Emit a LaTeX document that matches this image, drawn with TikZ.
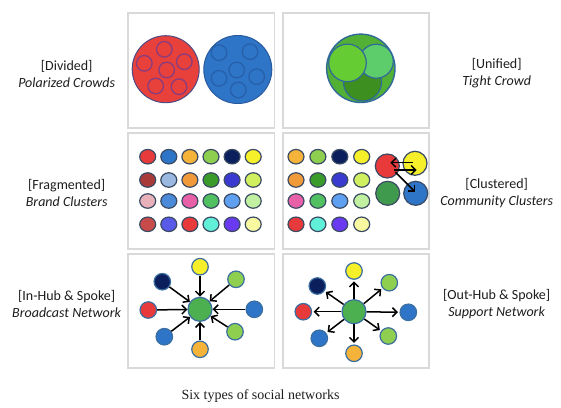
\documentclass[tikz,border=0pt]{standalone}
\usepackage{fontspec}
\setmainfont{Carlito}
\newfontfamily\capfont{Liberation Serif}
\usetikzlibrary{arrows.meta,shapes.geometric}
\definecolor{panelgray}{HTML}{D9D9D9}
\definecolor{txt}{HTML}{1E1E1E}
\definecolor{redA}{HTML}{E8403A}
\definecolor{redEdge}{HTML}{4E4A86}
\definecolor{redSmall}{HTML}{8A3C7E}
\definecolor{blueA}{HTML}{2E75C8}
\definecolor{blueEdge}{HTML}{2A5A9E}
\definecolor{blueSmall}{HTML}{2760AA}
\definecolor{gBig}{HTML}{52B034}
\definecolor{gLeft}{HTML}{66CC33}
\definecolor{gRight}{HTML}{5DCC6A}
\definecolor{gDark}{HTML}{3D8F1F}
\definecolor{gEdge}{HTML}{30699A}
\definecolor{dotEdge}{HTML}{3B4A63}
\definecolor{nodeEdge}{HTML}{3A6EA0}
% palette
\definecolor{cRed}{HTML}{E83A3A}
\definecolor{cBlue}{HTML}{2E75C8}
\definecolor{cOrange}{HTML}{F5B33A}
\definecolor{cLGreen}{HTML}{8FCF50}
\definecolor{cNavy}{HTML}{0A1F5C}
\definecolor{cYellow}{HTML}{F5F02A}
\definecolor{cDRed}{HTML}{A83A3A}
\definecolor{cLBlue}{HTML}{9AB8E0}
\definecolor{cOrange2}{HTML}{F09A3A}
\definecolor{cDGreen}{HTML}{3A9A2A}
\definecolor{cRoyal}{HTML}{3A3AD0}
\definecolor{cYGreen}{HTML}{D0F060}
\definecolor{cPink}{HTML}{E8B0B8}
\definecolor{cMBlue}{HTML}{4A8AD8}
\definecolor{cMagenta}{HTML}{E860A8}
\definecolor{cGreen}{HTML}{50C060}
\definecolor{cSky}{HTML}{60A0F0}
\definecolor{cPGreen}{HTML}{C0F0A0}
\definecolor{cBrick}{HTML}{C84A4A}
\definecolor{cPeri}{HTML}{5A5AE8}
\definecolor{cAqua}{HTML}{60F0D8}
\definecolor{cPurple}{HTML}{6A3AF0}
\definecolor{cPYellow}{HTML}{F8F8A0}
\definecolor{hubGreen}{HTML}{4CAF50}
\begin{document}
\begin{tikzpicture}[x=1pt,y=-1pt,
  panel/.style={draw=panelgray, line width=1.8pt},
  lbl/.style={align=center, font=\fontsize{14}{17}\selectfont, text=txt},
  dot/.style={ellipse, draw=dotEdge, line width=1.2pt, inner sep=0pt, minimum width=16pt, minimum height=14.5pt},
  big/.style={circle, draw=dotEdge, line width=1.2pt, inner sep=0pt, minimum size=24pt},
  sat/.style={circle, draw=nodeEdge, line width=1.2pt, inner sep=0pt, minimum size=16.5pt},
  hub/.style={circle, draw=nodeEdge, line width=1.2pt, fill=hubGreen, inner sep=0pt, minimum size=24pt},
  arr/.style={-{Straight Barb[length=4.5pt,width=9pt]}, line width=1.5pt, black},
  rarr/.style={{Straight Barb[length=4.5pt,width=9pt]}-, line width=1.5pt, black}
]
\useasboundingbox (0,0) rectangle (561,407);
\fill[white] (0,0) rectangle (561,407);
% panels
\draw[panel] (128.3,12.7) rectangle (274.5,128);
\draw[panel] (283,12.7) rectangle (429,128);
\draw[panel] (128.3,132.7) rectangle (274.5,249);
\draw[panel] (283,132.7) rectangle (429,249);
\draw[panel] (128.3,254) rectangle (274.5,368);
\draw[panel] (283,254) rectangle (429,368);
% labels
\node[lbl] (l1) at (66.7,73.5) {[Divided]\\\textit{Polarized Crowds}};
\node[lbl] (l2) at (66.7,193.3) {[Fragmented]\\\textit{Brand Clusters}};
\node[lbl] (l3) at (66.7,304) {[In-Hub \& Spoke]\\\textit{Broadcast Network}};
\node[lbl] (r1) at (496.7,73.5) {[Unified]\\\textit{Tight Crowd}};
\node[lbl] (r2) at (496.7,193.3) {[Clustered]\\\textit{Community Clusters}};
\node[lbl] (r3) at (496.7,304) {[Out-Hub \& Spoke]\\\textit{Support Network}};
\node[font=\capfont\fontsize{14}{16}\selectfont, text=txt] (cap) at (260.5,395.7) {Six types of social networks};
% panel 1: divided
\draw[fill=redA, draw=redEdge, line width=1pt] (165.7,69.2) circle (33.5pt);
\foreach \p in {(164.3,49.3),(144.3,63.3),(184.3,61.7),(166.7,70),(155.7,86),(179,86.7)}
  \draw[draw=redSmall, line width=1.3pt] \p circle (7.8pt);
\draw[fill=blueA, draw=blueEdge, line width=1pt] (237.8,69.5) circle (34pt);
\foreach \p in {(219,52.7),(250,51.7),(236.7,70),(219,78.3),(256.7,76.7),(238.3,90)}
  \draw[draw=blueSmall, line width=1.3pt] \p circle (7.8pt);
% panel 2: unified
\begin{scope}
  \clip (360.8,68.3) circle (34.2pt);
  \fill[gBig] (360.8,68.3) circle (34.2pt);
  \draw[fill=gDark, draw=gEdge, line width=1.2pt] (362.5,82) circle (19pt);
  \draw[fill=gRight, draw=gEdge, line width=1.2pt] (376.3,61.2) circle (17pt);
  \draw[fill=gLeft, draw=gEdge, line width=1.2pt] (347.5,62.9) circle (18.8pt);
\end{scope}
\draw[draw=gEdge, line width=1.4pt] (360.8,68.3) circle (34.2pt);
% panel 3: fragmented
\foreach \c [count=\i] in {cRed,cBlue,cOrange,cLGreen,cNavy,cYellow}
  \node[dot, fill=\c] (f1-\i) at ({147.7+21.1*(\i-1)},156.7) {};
\foreach \c [count=\i] in {cDRed,cLBlue,cOrange2,cDGreen,cRoyal,cYGreen}
  \node[dot, fill=\c] (f2-\i) at ({147.7+21.1*(\i-1)},180) {};
\foreach \c [count=\i] in {cPink,cMBlue,cMagenta,cGreen,cSky,cPGreen}
  \node[dot, fill=\c] (f3-\i) at ({147.7+21.1*(\i-1)},201) {};
\foreach \c [count=\i] in {cBrick,cPeri,cRed,cAqua,cPurple,cPYellow}
  \node[dot, fill=\c] (f4-\i) at ({147.7+21.1*(\i-1)},224.3) {};
% panel 4: clustered
\foreach \c [count=\i] in {cOrange,cLGreen,cNavy,cYellow}
  \node[dot, fill=\c] (k1-\i) at ({296+21.9*(\i-1)},156.7) {};
\foreach \c [count=\i] in {cOrange2,cDGreen,cRoyal,cYGreen}
  \node[dot, fill=\c] (k2-\i) at ({296+21.9*(\i-1)},180) {};
\foreach \c [count=\i] in {cMagenta,cGreen,cSky,cPGreen}
  \node[dot, fill=\c] (k3-\i) at ({296+21.9*(\i-1)},201) {};
\foreach \c [count=\i] in {cRed,cAqua,cPurple,cPYellow}
  \node[dot, fill=\c] (k4-\i) at ({296+21.9*(\i-1)},224.3) {};
\node[big, fill=cRed] (cr) at (387.3,166) {};
\node[big, fill=cYellow] (cy) at (415,163.3) {};
\node[big, fill=cGreen!80!black] (cg) at (387.7,193.3) {};
\node[big, fill=cBlue] (cb) at (415.7,193.3) {};
\draw[rarr] ([xshift=3pt,yshift=3.3pt]cr.center) -- ([xshift=-2pt,yshift=0.6pt]cy.center);
\draw[arr] ([xshift=7pt,yshift=-4pt]cr.center) -- ([xshift=1.7pt,yshift=-6.7pt]cy.center);
\draw[arr] ([xshift=8pt,yshift=-6pt]cr.center) -- ([xshift=-0.7pt,yshift=1.6pt]cb.center);
% panel 5: in-hub
\node[hub] (h1) at (200,309.3) {};
\node[sat, fill=cYellow] (a1) at (200,266.7) {};
\node[sat, fill=cLGreen] (a2) at (236,279.3) {};
\node[sat, fill=cBlue] (a3) at (254.3,309.3) {};
\node[sat, fill=cLGreen] (a4) at (235,331.7) {};
\node[sat, fill=cOrange] (a5) at (200,349.3) {};
\node[sat, fill=cBlue] (a6) at (164.3,336.7) {};
\node[sat, fill=cRed] (a7) at (148.3,310) {};
\node[sat, fill=cNavy] (a8) at (162.3,281.7) {};
\foreach \i in {1,...,8} \draw[arr] (a\i) -- (h1);
% panel 6: out-hub
\node[hub] (h2) at (354,311.7) {};
\node[sat, fill=cYellow] (b1) at (354,271) {};
\node[sat, fill=cLGreen] (b2) at (389.3,282.7) {};
\node[sat, fill=cBlue] (b3) at (408.3,312.3) {};
\node[sat, fill=cLGreen] (b4) at (388.3,336) {};
\node[sat, fill=cOrange] (b5) at (354,353.3) {};
\node[sat, fill=cBlue] (b6) at (319.3,338.3) {};
\node[sat, fill=cRed] (b7) at (303.3,311.7) {};
\node[sat, fill=cNavy] (b8) at (317.3,286) {};
\foreach \i in {1,...,8} \draw[arr, shorten >=1.5pt] (h2) -- (b\i);
\end{tikzpicture}
\end{document}
